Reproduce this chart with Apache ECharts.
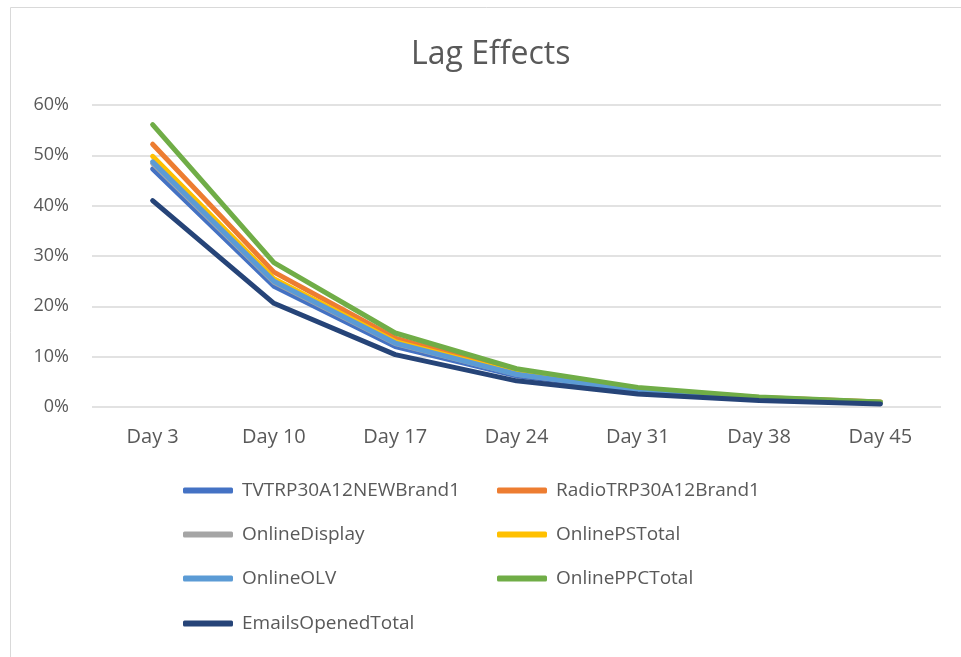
<!DOCTYPE html>
<html>
<head>
<meta charset="utf-8">
<script src="https://cdn.jsdelivr.net/npm/echarts@6/dist/echarts.min.js"></script>
<style>
  html, body { margin: 0; padding: 0; background: #fff; }
  #chart { width: 961px; height: 657px; }
</style>
</head>
<body>
<div id="chart"></div>
<script>
// Lag decay by media channel, share of effect remaining (%)
const days = ['Day 3', 'Day 10', 'Day 17', 'Day 24', 'Day 31', 'Day 38', 'Day 45'];
const yTicks = [0, 10, 20, 30, 40, 50, 60];

const tvTrp      = [47.3, 24.0, 12.0, 6.2, 3.2, 1.6, 0.8];
const radioTrp   = [52.2, 26.8, 13.7, 7.0, 3.6, 1.9, 1.0];
const onlineDisp = [48.4, 24.8, 12.6, 6.5, 3.3, 1.7, 0.9];
const onlinePs   = [49.8, 25.5, 13.0, 6.7, 3.4, 1.8, 0.9];
const onlineOlv  = [48.7, 25.0, 12.7, 6.5, 3.3, 1.7, 0.9];
const onlinePpc  = [56.1, 28.7, 14.7, 7.6, 3.9, 2.0, 1.0];
const emails     = [41.0, 20.6, 10.4, 5.2, 2.6, 1.3, 0.6];

const seriesNames = ['TVTRP30A12NEWBrand1', 'RadioTRP30A12Brand1', 'OnlineDisplay',
  'OnlinePSTotal', 'OnlineOLV', 'OnlinePPCTotal', 'EmailsOpenedTotal'];
const seriesData = [tvTrp, radioTrp, onlineDisp, onlinePs, onlineOlv, onlinePpc, emails];
const colors = ['#4472C4', '#ED7D31', '#A5A5A5', '#FFC000', '#5B9BD5', '#70AD47', '#264478'];

const FONT = '"Open Sans", sans-serif';
const TEXT = '#595959';

// two-column legend: each entry gets its own legend block
const legendLeft = [183, 497];
const legendTop = [481, 525, 569, 614];
const legends = seriesNames.map((name, i) => ({
  data: [name],
  left: legendLeft[i % 2],
  top: legendTop[Math.floor(i / 2)],
  icon: 'roundRect',
  itemWidth: 50,
  itemHeight: 6,
  itemGap: 0,
  padding: 0,
  selectedMode: false,
  textStyle: { color: TEXT, fontSize: 19, fontFamily: FONT, padding: [0, 0, 0, 4] }
}));

const chart = echarts.init(document.getElementById('chart'), null, { renderer: 'canvas' });
chart.setOption({
  animation: false,
  color: colors,
  title: {
    text: 'Lag Effects',
    left: 406,
    top: 34,
    textStyle: { color: TEXT, fontSize: 32, fontWeight: 'normal', fontFamily: FONT }
  },
  graphic: [{
    type: 'rect',
    shape: { x: 10.5, y: 7.5, width: 960, height: 660 },
    style: { fill: null, stroke: '#D9D9D9', lineWidth: 1 },
    silent: true
  }],
  legend: legends,
  grid: { left: 92, right: 20, top: 105, bottom: 250 },
  xAxis: {
    type: 'category',
    data: days,
    boundaryGap: true,
    axisLine: { show: false },
    axisTick: { show: false },
    axisLabel: { color: TEXT, fontSize: 20, fontFamily: FONT, margin: 20 }
  },
  yAxis: {
    type: 'value',
    min: yTicks[0],
    max: yTicks[yTicks.length - 1],
    interval: 10,
    axisLine: { show: false },
    axisTick: { show: false },
    splitLine: { lineStyle: { color: '#D9D9D9', width: 1.5 } },
    axisLabel: { color: TEXT, fontSize: 18, fontFamily: FONT, margin: 23, formatter: '{value}%' }
  },
  series: seriesNames.map((name, i) => ({
    name: name,
    type: 'line',
    data: seriesData[i],
    symbol: 'none',
    lineStyle: { width: 5, color: colors[i], cap: 'round', join: 'round' },
    itemStyle: { color: colors[i] },
    z: 2 + i
  }))
});
</script>
</body>
</html>
